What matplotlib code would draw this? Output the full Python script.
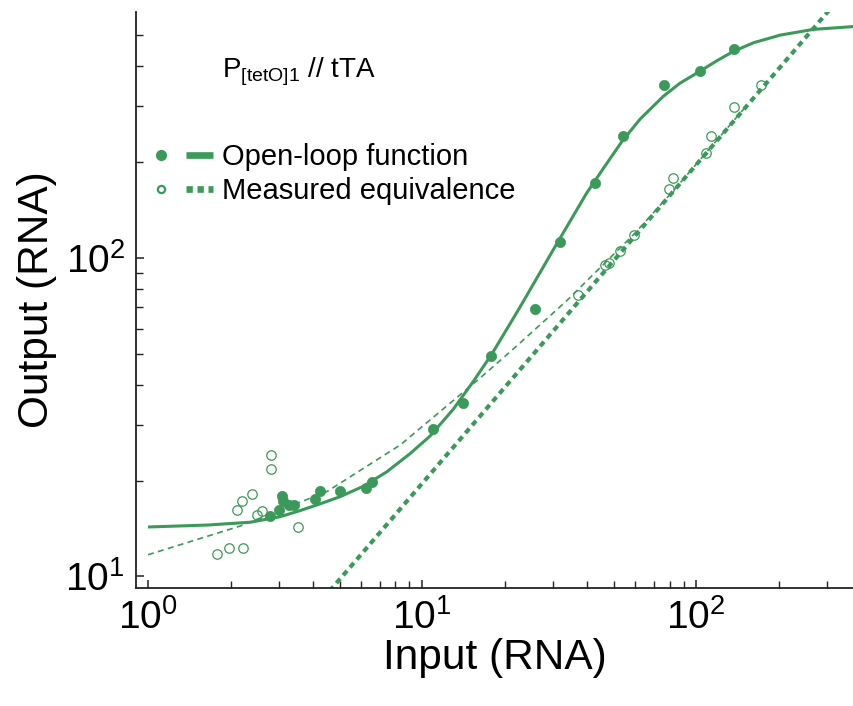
import matplotlib
matplotlib.use("Agg")
import matplotlib.pyplot as plt
from matplotlib.lines import Line2D
from matplotlib.legend_handler import HandlerTuple
from matplotlib.ticker import LogLocator, LogFormatterSciNotation, NullFormatter

plt.rcParams['font.family'] = ['Liberation Sans', 'DejaVu Sans']
plt.rcParams['mathtext.fontset'] = 'custom'
plt.rcParams['mathtext.rm'] = 'Liberation Sans'
plt.rcParams['mathtext.it'] = 'Liberation Sans:italic'
plt.rcParams['mathtext.bf'] = 'Liberation Sans:bold'

GREEN = '#3b9a5a'

# ---- data ----
open_loop_x = [2.78, 3.00, 3.08, 3.12, 3.26, 3.40, 4.08, 4.26, 5.04, 6.22, 6.58,
               11.0, 14.1, 17.9, 25.8, 31.9, 42.9, 54.0, 76.6, 103, 137]
open_loop_y = [15.5, 16.2, 17.9, 17.2, 16.8, 16.8, 17.5, 18.6, 18.6, 18.9, 19.8,
               29.1, 35.1, 49.1, 69.0, 112, 172, 241, 349, 387, 453]

measured_x = [1.79, 1.98, 2.23, 2.11, 2.20, 2.39, 2.50, 2.60, 2.82, 2.82, 3.54,
              37.1, 46.5, 48.2, 52.9, 59.5, 79.9, 82.2, 109, 113, 138, 173]
measured_y = [11.8, 12.3, 12.3, 16.2, 17.2, 18.1, 15.6, 16.0, 24.1, 21.8, 14.3,
              76.6, 95.0, 96.6, 105, 118, 165, 178, 214, 241, 297, 349]

fit_x = [1.0, 1.64, 2.36, 3.03, 3.59, 4.24, 5.02, 6.11, 7.43, 9.04, 10.7, 13.0,
         15.4, 18.0, 22.8, 30.1, 39.9, 47.2, 53.6, 62.5, 76.0, 87.4, 101.9,
         119, 136, 162, 203, 268, 377]
fit_y = [14.3, 14.5, 14.8, 15.4, 16.1, 16.9, 17.8, 19.2, 21.3, 24.3, 27.6, 33.5,
         41.0, 50.0, 70.2, 106, 160, 198, 232, 273, 322, 354, 383,
         416, 444, 474, 501, 522, 533]

trend_x = [1.0, 2.17, 4.51, 8.34, 16.4, 21.6, 34.0, 59.3, 83.1, 110.6, 152]
trend_y = [11.7, 14.4, 18.5, 25.9, 42.2, 51.9, 73.9, 118.7, 163.5, 217.6, 299]

equiv_x = [4.6, 305]
equiv_y = [9.0, 598]

title_text = r'P$_{\mathregular{[tetO]1}}$ // tTA'
legend_labels = ['Open-loop function', 'Measured equivalence']
x_label = 'Input (RNA)'
y_label = 'Output (RNA)'

# ---- figure ----
fig = plt.figure(figsize=(8.54, 7.06), dpi=100)
ax = fig.add_axes([136/854, 118/706, 1 - 136/854, (588-12)/706])

ax.plot(fit_x, fit_y, color=GREEN, lw=2.2, solid_capstyle='butt',
        solid_joinstyle='round', zorder=2)
ax.plot(trend_x, trend_y, color=GREEN, lw=1.2, dashes=(3.6, 2.6), zorder=2)
ax.plot(equiv_x, equiv_y, color=GREEN, lw=3.0, dashes=(1.4, 1.1), zorder=2)
ax.plot(measured_x, measured_y, ls='none', marker='o', ms=6.8, mfc='none',
        mec=GREEN, mew=0.9, zorder=3)
ax.plot(open_loop_x, open_loop_y, ls='none', marker='o', ms=7.4, mfc=GREEN,
        mec=GREEN, mew=0.5, zorder=4)

ax.set_xscale('log')
ax.set_yscale('log')
ax.set_xlim(0.904, 377)
ax.set_ylim(9.20, 592)

for s in ['top', 'right']:
    ax.spines[s].set_visible(False)
for s in ['left', 'bottom']:
    ax.spines[s].set_linewidth(1.3)
    ax.spines[s].set_color('#222222')

ax.xaxis.set_major_locator(LogLocator(base=10, numticks=10))
ax.yaxis.set_major_locator(LogLocator(base=10, numticks=10))
ax.xaxis.set_minor_locator(LogLocator(base=10, subs=range(2, 10), numticks=10))
ax.yaxis.set_minor_locator(LogLocator(base=10, subs=range(2, 10), numticks=10))
ax.xaxis.set_major_formatter(LogFormatterSciNotation())
ax.yaxis.set_major_formatter(LogFormatterSciNotation())
ax.xaxis.set_minor_formatter(NullFormatter())
ax.yaxis.set_minor_formatter(NullFormatter())
ax.tick_params(which='major', direction='in', length=6, width=1.1, color='#222222',
               labelsize=28, pad=8)
ax.tick_params(which='minor', direction='in', length=5, width=1.0, color='#222222')

ax.set_xlabel(x_label, fontsize=30.5, labelpad=1)
ax.set_ylabel(y_label, fontsize=30.5, labelpad=6)

fig.text(222/854, 1 - 77/706, title_text, fontsize=20, ha='left', va='baseline')

h1 = (Line2D([], [], ls='none', marker='o', ms=7, mfc=GREEN, mec=GREEN),
      Line2D([], [], color=GREEN, lw=4.8, solid_capstyle='butt'))
h2 = (Line2D([], [], ls='none', marker='o', ms=5.2, mfc='white', mec=GREEN, mew=1.6),
      Line2D([], [], color=GREEN, lw=4.8, dashes=(0.95, 0.7)))
leg = ax.legend([h1, h2], legend_labels,
                handler_map={tuple: HandlerTuple(ndivide=None, pad=0.4)},
                loc='center left', bbox_to_anchor=(147.5/854, 1 - 174/706),
                bbox_transform=fig.transFigure, frameon=False, fontsize=21,
                handlelength=2.26, handletextpad=0.3, borderpad=0,
                borderaxespad=0, labelspacing=0.2, numpoints=1)

fig.savefig('out.png', dpi=100)
